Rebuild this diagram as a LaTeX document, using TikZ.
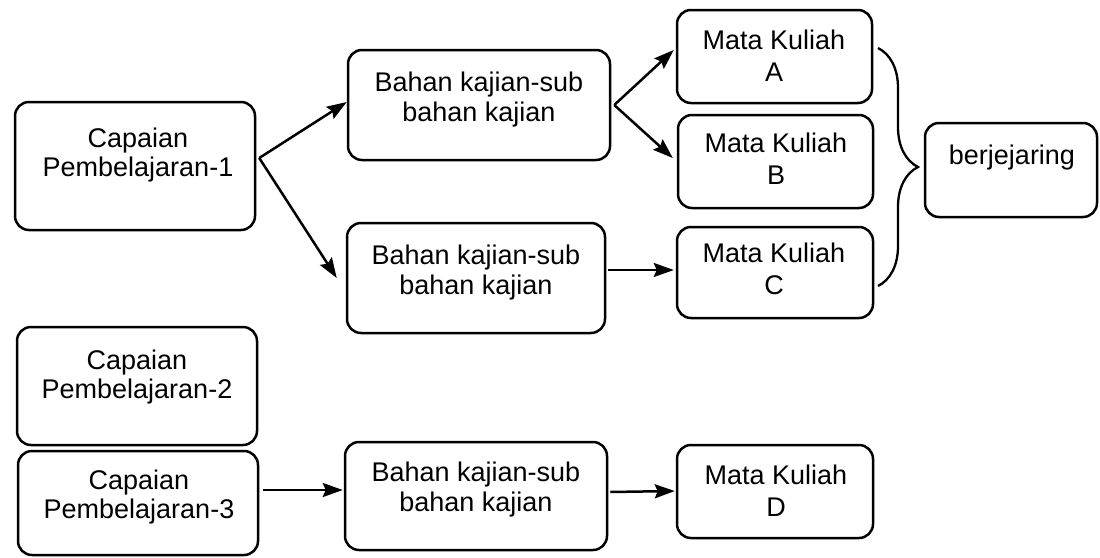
\documentclass[tikz,border=0pt]{standalone}
\usepackage{fontspec}
\setmainfont{Liberation Sans}
\usetikzlibrary{arrows.meta,decorations.pathreplacing}
\tikzset{
  box/.style={draw=black, line width=2.5pt, rounded corners=14pt, inner sep=0pt},
  txt/.style={align=center, inner sep=0pt, anchor=north, text=black},
  cptxt/.style={txt, font=\fontsize{27}{29}\selectfont},
  bktxt/.style={txt, font=\fontsize{27}{30}\selectfont},
  mktxt/.style={txt, font=\fontsize{27}{32}\selectfont},
  arr/.style={draw=black, line width=2.5pt, -{Stealth[length=20pt 0,width=14pt 0,inset=3pt]}},
  bracestyle/.style={draw=black, line width=2.3pt, decorate, decoration={brace, amplitude=40pt, aspect=0.5}}
}
\begin{document}
\begin{tikzpicture}[x=1pt, y=-1pt]
\useasboundingbox (0,0) rectangle (1100,557);
% boxes
\node[box, minimum width=240pt, minimum height=128pt] (cp1) at (135,166) {};
\node[box, minimum width=240pt, minimum height=118pt] (cp2) at (137,386) {};
\node[box, minimum width=240pt, minimum height=104pt] (cp3) at (138,503) {};
\node[box, minimum width=262pt, minimum height=110pt] (bk1) at (479,105) {};
\node[box, minimum width=258pt, minimum height=110pt] (bk2) at (476,278) {};
\node[box, minimum width=262pt, minimum height=108pt] (bk3) at (476,496) {};
\node[box, minimum width=195pt, minimum height=93pt] (mka) at (774.5,56.5) {};
\node[box, minimum width=195pt, minimum height=93pt] (mkb) at (775.5,161.5) {};
\node[box, minimum width=196pt, minimum height=91pt] (mkc) at (775,272.5) {};
\node[box, minimum width=196pt, minimum height=93pt] (mkd) at (775,491.5) {};
\node[box, minimum width=172pt, minimum height=94pt] (berj) at (1011,170) {};
% texts
\node[cptxt] (cp1t) at (138,128) {Capaian\\Pembelajaran-1};
\node[cptxt] (cp2t) at (137,350) {Capaian\\Pembelajaran-2};
\node[cptxt] (cp3t) at (139,470) {Capaian\\Pembelajaran-3};
\node[bktxt] (bk1t) at (479,72) {Bahan kajian-sub\\bahan kajian};
\node[bktxt] (bk2t) at (476,245) {Bahan kajian-sub\\bahan kajian};
\node[bktxt] (bk3t) at (476,462) {Bahan kajian-sub\\bahan kajian};
\node[mktxt] (mkat) at (774,30) {Mata Kuliah\\A};
\node[mktxt] (mkbt) at (776,133) {Mata Kuliah\\B};
\node[mktxt] (mkct) at (774,243) {Mata Kuliah\\C};
\node[mktxt] (mkdt) at (776,465) {Mata Kuliah\\D};
\node[mktxt] (berjt) at (1012,145) {berjejaring};
% connectors
\draw[arr] ([xshift=3pt,yshift=8pt]cp1.east) -- ([yshift=3pt]bk1.west);
\draw[arr] ([xshift=3pt,yshift=8pt]cp1.east) -- ([xshift=-9pt]bk2.west);
\draw[arr] ([xshift=3pt]bk1.east) -- ([xshift=-2pt,yshift=6.5pt]mka.west);
\draw[arr] ([xshift=3pt]bk1.east) -- ([xshift=-4pt,yshift=3.5pt]mkb.west);
\draw[arr] ([xshift=2pt,yshift=8pt]bk2.east) -- ([xshift=-2pt,yshift=2.5pt]mkc.west);
\draw[arr] ([xshift=4pt,yshift=13pt]cp3.east) -- ([xshift=-1pt,yshift=6pt]bk3.west);
\draw[arr] ([xshift=2pt,yshift=4pt]bk3.east) -- ([xshift=-1pt,yshift=0.5pt]mkd.west);
% brace
\coordinate (bt) at (878,48);
\coordinate (bb) at (878,286);
\draw[bracestyle] (bt) -- (bb);
\end{tikzpicture}
\end{document}
